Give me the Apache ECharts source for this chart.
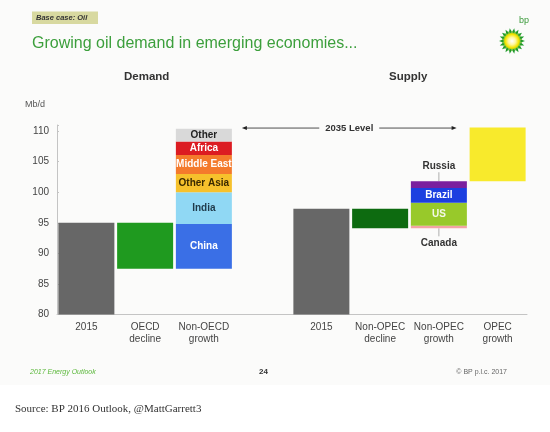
<!DOCTYPE html>
<html><head><meta charset="utf-8">
<script src="https://cdn.jsdelivr.net/npm/echarts@6/dist/echarts.min.js"></script>
<style>html,body{margin:0;padding:0;background:#fff}#c{width:550px;height:432px}</style>
</head><body><div id="c"></div>
<script>
// ---- data ----
const categories = ['2015', 'OECD\ndecline', 'Non-OECD\ngrowth', '', '2015', 'Non-OPEC\ndecline', 'Non-OPEC\ngrowth', 'OPEC\ngrowth'];
const yTicks = [80, 85, 90, 95, 100, 105, 110];
const demand2015 = 95.0;
const oecdDecline = 7.5;
const nonOecdRegions = ['China', 'India', 'Other Asia', 'Middle East', 'Africa', 'Other'];
const nonOecdGrowth = [7.3, 5.2, 3.0, 3.1, 2.2, 2.1];
const supply2015 = 97.3;
const nonOpecDecline = 3.2;
const nonOpecRegions = ['Canada', 'US', 'Brazil', 'Russia'];
const nonOpecGrowth = [0.4, 3.8, 2.4, 1.1];
const opecGrowth = 8.8;
const level2035 = 110.5;

// ---- styles ----
const FONT = 'Liberation Sans, Arial, sans-serif';
const nonOecdColors = ['#3a6fe6', '#90d8f4', '#f6c12c', '#f47a2c', '#dc1c22', '#d9d9d9'];
const nonOecdLabelColors = ['#ffffff', '#1f3a4a', '#3a2a00', '#ffffff', '#ffffff', '#222222'];
const nonOpecColors = ['#f2a3a3', '#98c92a', '#1c3fe0', '#7a1f9e'];
const nonOpecLabelColors = ['#222', '#f4f8e8', '#ffffff', '#222'];

const sum = a => a.reduce((s, v) => s + v, 0);
const N = categories.length;
function seriesAt(idx, value, name, color, labelColor, labelPos) {
  const data = new Array(N).fill('-');
  data[idx] = value;
  return {
    type: 'bar', name: name, stack: 'w', barWidth: 56, data: data,
    itemStyle: { color: color },
    label: labelColor ? {
      show: true, position: labelPos || 'inside', formatter: name, color: labelColor,
      fontFamily: FONT, fontSize: 10, fontWeight: 'bold', distance: 10
    } : { show: false },
    emphasis: { disabled: true }, animation: false
  };
}

const oecdBase = demand2015 - oecdDecline;
const nonOpecBase = supply2015 - nonOpecDecline;
const opecBase = nonOpecBase + sum(nonOpecGrowth);
const baseData = ['-', oecdBase, oecdBase, '-', '-', nonOpecBase, nonOpecBase, opecBase];

const series = [];
series.push({ type: 'bar', name: 'base', stack: 'w', barWidth: 56, data: baseData,
  itemStyle: { color: 'rgba(0,0,0,0)' }, silent: true, animation: false });
series.push(seriesAt(0, demand2015, '2015 demand', '#676767'));
series.push(seriesAt(1, oecdDecline, 'OECD decline', '#1f9a1f'));
nonOecdRegions.forEach((r, i) => series.push(seriesAt(2, nonOecdGrowth[i], r, nonOecdColors[i], nonOecdLabelColors[i])));
series.push(seriesAt(4, supply2015, '2015 supply', '#676767'));
series.push(seriesAt(5, nonOpecDecline, 'Non-OPEC decline', '#0d6b10'));
nonOpecRegions.forEach((r, i) => {
  let pos = 'inside';
  if (r === 'Russia') pos = 'top';
  if (r === 'Canada') pos = 'bottom';
  series.push(seriesAt(6, nonOpecGrowth[i], r, nonOpecColors[i], pos === 'inside' ? nonOpecLabelColors[i] : '#333', pos));
});
series.push(seriesAt(7, opecGrowth, 'OPEC growth', '#f8ea2c'));

// bp logo
function logo(cx, cy) {
  const pts = [];
  const n = 18;
  for (let i = 0; i < n * 2; i++) {
    const r = i % 2 === 0 ? 13 : 9;
    const a = Math.PI * i / n;
    pts.push([cx + r * Math.cos(a), cy + r * Math.sin(a)]);
  }
  const pts2 = [];
  for (let i = 0; i < n * 2; i++) {
    const r = i % 2 === 0 ? 10.5 : 8;
    const a = Math.PI * i / n + Math.PI / n;
    pts2.push([cx + r * Math.cos(a), cy + r * Math.sin(a)]);
  }
  return [
    { type: 'polygon', shape: { points: pts }, style: { fill: '#1f9a2a' } },
    { type: 'polygon', shape: { points: pts2 }, style: { fill: '#7cc242' } },
    { type: 'circle', shape: { cx: cx, cy: cy, r: 8 }, style: { fill: {
      type: 'radial', x: 0.5, y: 0.5, r: 0.5,
      colorStops: [{ offset: 0, color: '#ffffff' }, { offset: 0.45, color: '#fff8a0' }, { offset: 0.85, color: '#f3e400' }, { offset: 1, color: '#c9d400' }] } } },
    { type: 'text', left: cx + 7, top: cy - 25, style: { text: 'bp', fill: '#3a9a3a', font: '9px ' + FONT } }
  ];
}

const staticGraphics = [
  { type: 'rect', shape: { x: 0, y: 0, width: 550, height: 385 }, style: { fill: '#fbfbfa' }, z: -10 },
  { type: 'rect', shape: { x: 32, y: 11.5, width: 66, height: 12.5 }, style: { fill: '#d8d9a0' } },
  { type: 'text', left: 36, top: 13.5, style: { text: 'Base case: Oil', fill: '#333', font: 'italic bold 7.5px ' + FONT } },
  { type: 'text', left: 32, top: 36, style: { text: 'Growing oil demand in emerging economies...', fill: '#3c9f3c', font: '16px ' + FONT } },
  { type: 'text', left: 124, top: 71, style: { text: 'Demand', fill: '#333', font: 'bold 11.5px ' + FONT } },
  { type: 'text', left: 389, top: 71, style: { text: 'Supply', fill: '#333', font: 'bold 11.5px ' + FONT } },
  { type: 'text', left: 25, top: 100, style: { text: 'Mb/d', fill: '#555', font: '9px ' + FONT } },
  { type: 'text', left: 30, top: 369, style: { text: '2017 Energy Outlook', fill: '#5cb83c', font: 'italic 7px ' + FONT } },
  { type: 'text', left: 259, top: 368, style: { text: '24', fill: '#333', font: 'bold 8px ' + FONT } },
  { type: 'text', right: 43, top: 369, style: { text: '\u00a9 BP p.l.c. 2017', fill: '#666', font: '7px ' + FONT } },
  { type: 'text', left: 15, top: 404, style: { text: 'Source: BP 2016 Outlook, @MattGarrett3', fill: '#333', font: '11px Liberation Serif, DejaVu Serif, serif' } }
].concat(logo(512, 41));

const chart = echarts.init(document.getElementById('c'), null, { renderer: 'canvas' });
chart.setOption({
  animation: false,
  backgroundColor: '#ffffff',
  grid: { left: 57, right: 23, top: 125, height: 189.5 },
  xAxis: {
    type: 'category', data: categories,
    axisLine: { lineStyle: { color: '#c4c4c4' } },
    axisTick: { show: false },
    axisLabel: { interval: 0, color: '#444', fontFamily: FONT, fontSize: 10, lineHeight: 12, margin: 7 }
  },
  yAxis: {
    type: 'value', min: 80, max: 111, interval: 5,
    axisLine: { show: true, lineStyle: { color: '#c4c4c4' } },
    axisTick: { show: true, inside: true, length: 2, lineStyle: { color: '#c4c4c4' } },
    splitLine: { show: false },
    axisLabel: { color: '#444', fontFamily: FONT, fontSize: 10, margin: 8,
      formatter: v => (yTicks.indexOf(v) >= 0 ? String(v) : '') }
  },
  graphic: staticGraphics,
  series: series
});

// annotations positioned through the axes
const yLevel = chart.convertToPixel({ yAxisIndex: 0 }, level2035);
const x2 = chart.convertToPixel({ xAxisIndex: 0 }, categories[2]);
const x7 = chart.convertToPixel({ xAxisIndex: 0 }, categories[7]);
const x6 = chart.convertToPixel({ xAxisIndex: 0 }, categories[6]);
const xl = x2 + 28 + 10, xr = x7 - 28 - 13;
const xm = (xl + xr) / 2;
const yTop6 = chart.convertToPixel({ yAxisIndex: 0 }, opecBase);
const yBot6 = chart.convertToPixel({ yAxisIndex: 0 }, nonOpecBase);
const lineStyle = { stroke: '#222', lineWidth: 0.8 };
const ann = [
  { type: 'line', shape: { x1: xl + 3, y1: yLevel, x2: xm - 30, y2: yLevel }, style: lineStyle },
  { type: 'line', shape: { x1: xm + 30, y1: yLevel, x2: xr - 3, y2: yLevel }, style: lineStyle },
  { type: 'polygon', shape: { points: [[xl, yLevel], [xl + 5, yLevel - 2], [xl + 5, yLevel + 2]] }, style: { fill: '#222' } },
  { type: 'polygon', shape: { points: [[xr, yLevel], [xr - 5, yLevel - 2], [xr - 5, yLevel + 2]] }, style: { fill: '#222' } },
  { type: 'text', x: xm, y: yLevel, style: { text: '2035 Level', fill: '#333', font: 'bold 9.5px ' + FONT, align: 'center', verticalAlign: 'middle' } },
  { type: 'line', shape: { x1: x6, y1: yTop6 - 9, x2: x6, y2: yTop6 }, style: { stroke: '#999', lineWidth: 0.8 } },
  { type: 'line', shape: { x1: x6, y1: yBot6, x2: x6, y2: yBot6 + 8 }, style: { stroke: '#999', lineWidth: 0.8 } }
];
chart.setOption({ graphic: staticGraphics.concat(ann) });
</script>
</body></html>
